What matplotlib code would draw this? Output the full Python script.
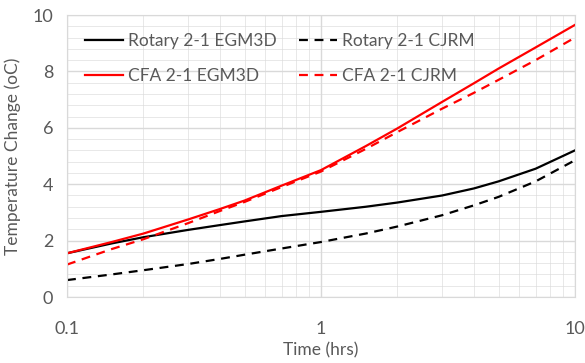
import numpy as np
import matplotlib.pyplot as plt
from matplotlib.ticker import FixedLocator, MultipleLocator, FixedFormatter

time_hrs = [0.1, 0.15, 0.2, 0.3, 0.4, 0.5, 0.7, 1, 1.5, 2, 3, 4, 5, 7, 10]
rotary_egm3d = [1.55, 1.9, 2.12, 2.38, 2.55, 2.68, 2.87, 3.02, 3.2, 3.35, 3.6, 3.85, 4.1, 4.55, 5.2]
rotary_cjrm = [0.6, 0.8, 0.95, 1.17, 1.35, 1.5, 1.72, 1.95, 2.25, 2.5, 2.9, 3.25, 3.55, 4.1, 4.85]
cfa_egm3d = [1.55, 1.95, 2.25, 2.75, 3.12, 3.42, 3.95, 4.5, 5.35, 5.98, 6.92, 7.58, 8.1, 8.85, 9.65]
cfa_cjrm = [1.15, 1.7, 2.05, 2.62, 3.05, 3.37, 3.9, 4.45, 5.25, 5.85, 6.68, 7.24, 7.7, 8.4, 9.2]

plt.rcParams['font.family'] = ['Lato', 'DejaVu Sans']
text_color = '#595959'
grid_color = '#d9d9d9'

fig = plt.figure(figsize=(5.85, 3.63), dpi=100)
ax = fig.add_axes([67 / 585, 66 / 363, 508 / 585, 282 / 363])

# order so that the two-column legend reads row by row like the original
ax.plot(time_hrs, rotary_egm3d, color='black', lw=1.6, label='Rotary 2-1 EGM3D')
ax.plot(time_hrs, cfa_egm3d, color='#ff0000', lw=1.6, label='CFA 2-1 EGM3D')
ax.plot(time_hrs, rotary_cjrm, color='black', lw=1.6, ls=(0, (4, 3)), label='Rotary 2-1 CJRM')
ax.plot(time_hrs, cfa_cjrm, color='#ff0000', lw=1.6, ls=(0, (4, 3)), label='CFA 2-1 CJRM')

ax.set_xscale('log')
ax.set_xlim(0.1, 10)
ax.set_ylim(0, 10)
ax.xaxis.set_major_locator(FixedLocator([0.1, 1, 10]))
ax.xaxis.set_major_formatter(FixedFormatter(['0.1', '1', '10']))
minor_x = [m * d for d in [0.1, 1] for m in range(2, 10)]
ax.xaxis.set_minor_locator(FixedLocator(minor_x))
ax.xaxis.set_minor_formatter(FixedFormatter([]))
ax.yaxis.set_major_locator(MultipleLocator(2))
ax.yaxis.set_minor_locator(MultipleLocator(0.4))

ax.grid(True, which='major', color=grid_color, lw=1.0)
ax.grid(True, which='minor', color=grid_color, lw=0.6, alpha=0.7)
ax.set_axisbelow(True)
for s in ax.spines.values():
    s.set_color(grid_color)
ax.tick_params(which='both', length=0, colors=text_color, labelsize=13)
ax.tick_params(axis='x', pad=17)
ax.tick_params(axis='y', pad=10)

ax.set_xlabel('Time (hrs)', color=text_color, fontsize=12.5, labelpad=4)
ax.set_ylabel('Temperature Change (oC)', color=text_color, fontsize=12.5, labelpad=8)

leg = ax.legend(ncol=2, loc='upper left', frameon=False, fontsize=12.5,
                handlelength=2.2, handletextpad=0.25, columnspacing=1.3,
                labelspacing=1.05, bbox_to_anchor=(0.005, 0.99))
for t in leg.get_texts():
    t.set_color(text_color)

fig.savefig('out.png', dpi=100)
